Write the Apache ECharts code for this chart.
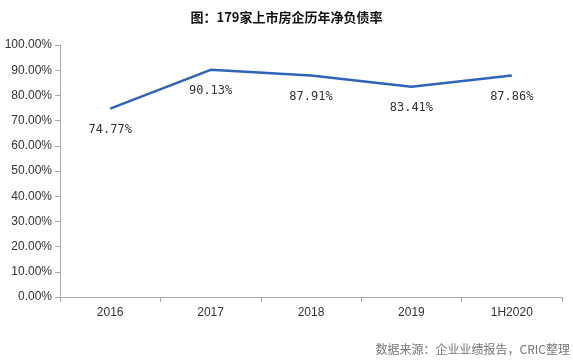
<!DOCTYPE html>
<html><head><meta charset="utf-8">
<script src="https://cdn.jsdelivr.net/npm/echarts@6/dist/echarts.min.js"></script>
<style>html,body{margin:0;padding:0;background:#fff}#c{width:573px;height:360px}</style>
</head><body><div id="c"></div>
<script>
var categories = ['2016', '2017', '2018', '2019', '1H2020'];
var netDebtRatio = [74.77, 90.13, 87.91, 83.41, 87.86];
var titleText = '图：179家上市房企历年净负债率';
var sourceText = '数据来源：企业业绩报告，CRIC整理';

var chart = echarts.init(document.getElementById('c'));
chart.setOption({
  animation: false,
  title: {
    text: titleText, left: 'center', top: 6,
    textStyle: {fontSize: 13, fontWeight: 'bold', color: '#111', fontFamily: 'Noto Sans CJK SC'}
  },
  graphic: [{
    type: 'text', right: 3, top: 343,
    style: {text: sourceText, fill: '#777', font: '12px "Noto Sans CJK SC"'}
  }],
  grid: {left: 60, right: 11, top: 45, bottom: 63},
  xAxis: {
    type: 'category', data: categories, boundaryGap: true,
    axisLine: {lineStyle: {color: '#aaa'}},
    axisTick: {show: true, alignWithLabel: false, length: 5, lineStyle: {color: '#aaa'}},
    axisLabel: {color: '#333', fontSize: 12, margin: 10, fontFamily: 'Liberation Sans'}
  },
  yAxis: {
    type: 'value', min: 0, max: 100, interval: 10,
    axisLine: {show: true, lineStyle: {color: '#aaa'}},
    axisTick: {show: true, length: 5, lineStyle: {color: '#aaa'}},
    splitLine: {show: false},
    axisLabel: {color: '#333', fontSize: 12, margin: 8, fontFamily: 'Liberation Sans',
      formatter: function (v) { return v.toFixed(2) + '%'; }}
  },
  series: [{
    type: 'line', data: netDebtRatio, symbol: 'circle', symbolSize: 1, showSymbol: true,
    itemStyle: {color: 'rgba(46,99,184,0)', borderWidth: 0},
    lineStyle: {color: '#2E63B8', width: 2.5},
    label: {show: true, position: 'bottom', distance: 15, color: '#333', fontSize: 12,
      fontFamily: 'DejaVu Sans Mono',
      formatter: function (p) { return p.value.toFixed(2) + '%'; }}
  }]
});
</script></body></html>
